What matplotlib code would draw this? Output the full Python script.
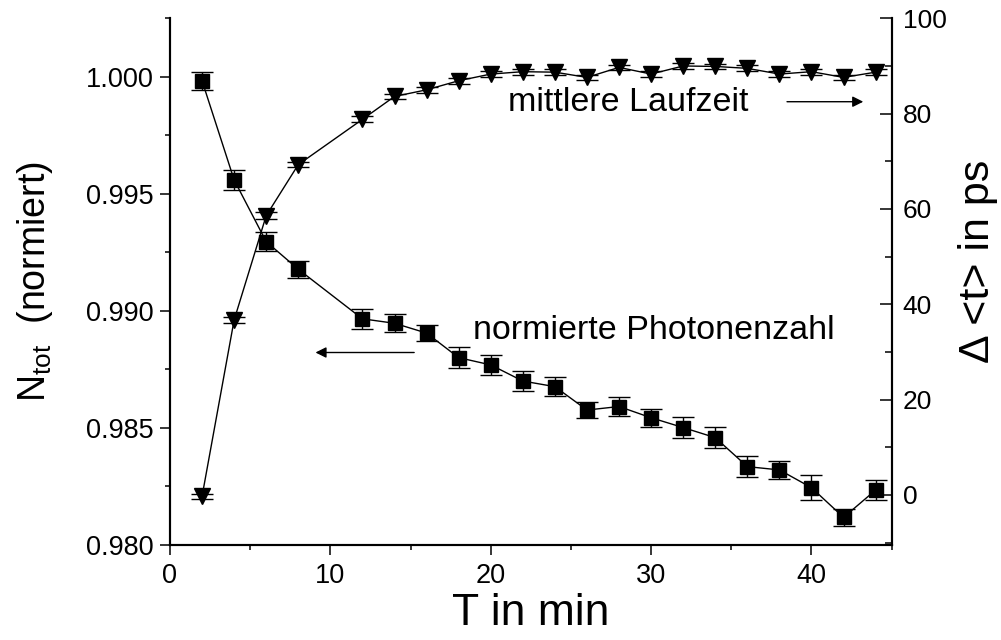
import numpy as np
import matplotlib
matplotlib.use("Agg")
import matplotlib.pyplot as plt
from matplotlib.ticker import MultipleLocator

plt.rcParams['font.family'] = ['Liberation Sans', 'DejaVu Sans']
plt.rcParams['mathtext.fontset'] = 'custom'
plt.rcParams['mathtext.rm'] = 'Liberation Sans'

# measurement times (min)
t_min = [2, 4, 6, 8, 12, 14, 16, 18, 20, 22, 24, 26, 28, 30, 32, 34, 36, 38, 40, 42, 44]

# normalised photon number (left axis)
n_tot = [0.99983, 0.99559, 0.99295, 0.99177, 0.98965, 0.98946, 0.98904, 0.98799,
         0.98768, 0.98699, 0.98675, 0.98575, 0.98590, 0.98542, 0.98500, 0.98457,
         0.98333, 0.98319, 0.98243, 0.98116, 0.98233]
n_tot_err = [0.00039, 0.00042, 0.00041, 0.00036, 0.00042, 0.00039, 0.00035, 0.00044,
             0.00042, 0.00041, 0.00040, 0.00035, 0.00039, 0.00039, 0.00044, 0.00044,
             0.00046, 0.00039, 0.00053, 0.00036, 0.00041]

# mean time of flight shift in ps (right axis)
dt_ps = [-0.3, 36.7, 58.6, 69.3, 78.8, 83.6, 85.0, 86.9, 88.3, 88.8, 88.7, 87.6,
         89.7, 88.3, 90.0, 89.9, 89.5, 88.3, 88.8, 87.6, 88.7]
dt_err = [0.6, 0.6, 0.7, 0.6, 0.6, 0.6, 0.6, 0.6, 0.6, 0.6, 0.6, 0.6,
          0.6, 0.6, 0.6, 0.6, 0.6, 0.6, 0.6, 0.6, 0.6]

fig = plt.figure(figsize=(10.01, 6.40), dpi=100)
ax = fig.add_axes([0.1698, 0.1492, 0.721, 0.8222])
ax2 = ax.twinx()

# left series: squares
ax.errorbar(t_min, n_tot, yerr=n_tot_err, fmt='s-', color='black', ms=10,
            lw=1.0, elinewidth=1.0, capsize=8, capthick=1.0)
# right series: down triangles
ax2.errorbar(t_min, dt_ps, yerr=dt_err, fmt='v-', color='black', ms=11.5,
             lw=1.0, elinewidth=1.0, capsize=8, capthick=1.0)

ax.set_xlim(0, 45)
ax.set_ylim(0.980, 1.0025)
ax2.set_ylim(-10.4, 100)

ax.xaxis.set_major_locator(MultipleLocator(10))
ax.xaxis.set_minor_locator(MultipleLocator(5))
ax.yaxis.set_major_locator(MultipleLocator(0.005))
ax.yaxis.set_minor_locator(MultipleLocator(0.0025))
ax.yaxis.set_major_formatter(plt.FormatStrFormatter('%.3f'))
ax2.yaxis.set_major_locator(MultipleLocator(20))
ax2.yaxis.set_minor_locator(MultipleLocator(10))

for a in (ax, ax2):
    a.spines['top'].set_visible(False)
    for s in ('left', 'bottom', 'right'):
        a.spines[s].set_linewidth(1.5)

ax.tick_params(which='both', direction='out', width=1.1, labelsize=19.5, pad=5)
ax.tick_params(axis='x', pad=6)
ax.tick_params(which='major', length=7)
ax.tick_params(which='minor', length=3.6)
ax2.tick_params(which='both', direction='in', width=1.1, labelsize=19, pad=8)
ax2.tick_params(which='major', length=8.4)
ax2.tick_params(which='minor', length=4.8)

ax.set_xlabel('T in min', fontsize=32, labelpad=3)
fig.text(0.035, 0.56, r'N$_{\rm tot}$  (normiert)', rotation=90,
         ha='center', va='center', fontsize=27)
fig.text(0.977, 0.591, '\u0394 <t> in ps', rotation=90,
         ha='center', va='center', fontsize=31)

# annotations with arrows
ax.text(18.9, 0.98916, 'normierte Photonenzahl', fontsize=24.5, ha='left', va='center')
ax.annotate('', xy=(8.9, 0.98821), xytext=(15.4, 0.98821),
            arrowprops=dict(arrowstyle='-|>', color='black', lw=1.0, mutation_scale=16))
ax2.text(21.06, 82.3, 'mittlere Laufzeit', fontsize=24.5, ha='left', va='center')
ax2.annotate('', xy=(43.4, 82.5), xytext=(38.3, 82.5),
             arrowprops=dict(arrowstyle='-|>', color='black', lw=1.0, mutation_scale=16))

fig.savefig('out.png', dpi=100)
